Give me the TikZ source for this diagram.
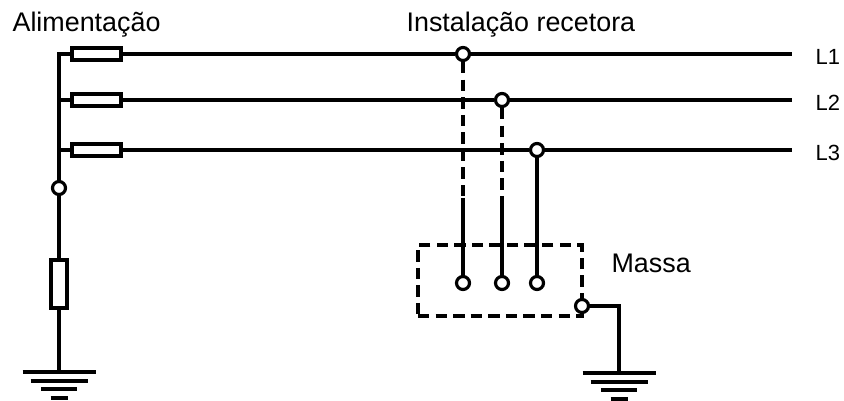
\documentclass[tikz,border=0pt]{standalone}
\usepackage{fontspec}
\setmainfont{Liberation Sans}
\usetikzlibrary{positioning,calc}

\begin{document}
\begin{tikzpicture}[x=0.02cm, y=-0.02cm, line width=1.8pt]
	\tikzstyle{fuse}=[draw,rectangle,fill=white,inner sep=0pt,minimum width=0.98cm,minimum height=0.24cm]
	\tikzstyle{res}=[draw,rectangle,fill=white,inner sep=0pt,minimum width=0.32cm,minimum height=0.96cm]
	\tikzstyle{term}=[draw,circle,fill=white,inner sep=0pt,minimum size=0.26cm]
	\tikzstyle{wire}=[dash pattern=on 6.5pt off 3.5pt]
	\tikzstyle{massbox}=[draw,rectangle,wire,inner sep=0pt,minimum width=3.28cm,minimum height=1.42cm]
	\tikzstyle{lbl}=[font=\fontsize{15.3}{18}\selectfont,inner sep=0pt,anchor=base west]
	\tikzstyle{phase}=[font=\fontsize{12.5}{14}\selectfont,inner sep=0pt,anchor=west]
	\useasboundingbox (0,0) rectangle (844,401);

	% alimentacao
	\node[lbl] (T1) at (11,32) {Alimentação};
	\node[fuse] (F1) at (96.5,54) {};
	\node[fuse] (F2) at (96.5,100) {};
	\node[fuse] (F3) at (96.5,150) {};
	\coordinate (B1) at (59,54);
	\coordinate (B2) at (59,100);
	\coordinate (B3) at (59,150);
	\node[term] (N) at (59,188) {};
	\node[res]  (R) at (59,284) {};
	\coordinate (G1) at (59,372);

	% instalacao recetora
	\node[lbl] (T2) at (405,32) {Instalação recetora};
	\node[term] (P1) at (463,54) {};
	\node[term] (P2) at (502,100) {};
	\node[term] (P3) at (537,150) {};
	\coordinate (E1) at (792,54);
	\coordinate (E2) at (792,100);
	\coordinate (E3) at (792,150);
	\node[phase] (L1) at (814,57) {L1};
	\node[phase] (L2) at (814,103) {L2};
	\node[phase] (L3) at (814,153) {L3};

	% massa
	\node[massbox] (M) at (500,280.5) {};
	\node[lbl] (T3) at (610,273) {Massa};
	\coordinate (D1) at (463,198);
	\coordinate (D2) at (502,198);
	\node[term] (Q1) at (463,283) {};
	\node[term] (Q2) at (502,283) {};
	\node[term] (Q3) at (537,283) {};
	\node[term] (K) at (582,306) {};
	\coordinate (C) at (619,306);
	\coordinate (G2) at (619,373);

	\path
	(F1) edge (P1)
	(P1) edge (E1)
	(F2) edge (P2)
	(P2) edge (E2)
	(F3) edge (P3)
	(P3) edge (E3)

	(P1) edge[wire] (D1)
	(D1) edge (Q1)
	(P2) edge[wire] (D2)
	(D2) edge (Q2)
	(P3) edge (Q3);

	\draw (F1.west) -- (B1) -- (N);
	\draw (F2.west) -- (B2);
	\draw (F3.west) -- (B3);
	\draw (N) -- (R) -- (G1);
	\draw (K) -- (C) -- (G2);

	% erde
	\foreach \w/\d in {36.5/0, 28.5/9, 18/17, 8.5/26}{
		\draw ($(G1)+(-\w,\d)$) -- ($(G1)+(\w,\d)$);
		\draw ($(G2)+(-\w,\d)$) -- ($(G2)+(\w,\d)$);
	}
\end{tikzpicture}
\end{document}
